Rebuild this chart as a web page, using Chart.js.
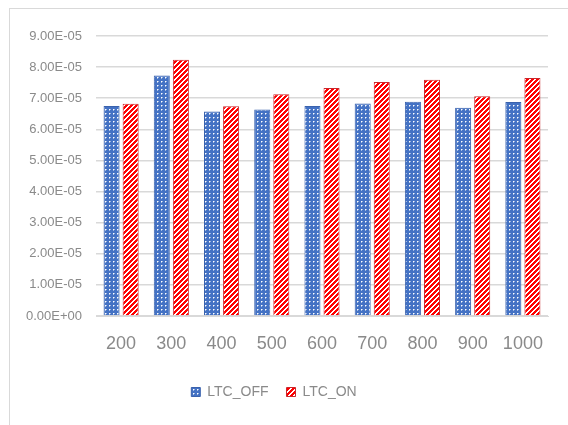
<!DOCTYPE html>
<html>
<head>
<meta charset="utf-8">
<script src="https://cdn.jsdelivr.net/npm/chart.js"></script>
<style>
  html, body { margin: 0; padding: 0; background: #fff; }
  #wrap { position: relative; width: 568px; height: 425px; }
  #frame { position: absolute; left: 9px; top: 8px; right: -2px; bottom: -2px;
           border-top: 1px solid #d9d9d9; border-left: 1px solid #d9d9d9; }
  canvas { position: absolute; left: 0; top: 0; }
</style>
</head>
<body>
<div id="wrap">
  <div id="frame"></div>
  <canvas id="chart" width="568" height="425"></canvas>
</div>
<script>
// values
const categories = ['200', '300', '400', '500', '600', '700', '800', '900', '1000'];
const ltcOff = [6.75e-5, 7.73e-5, 6.57e-5, 6.64e-5, 6.75e-5, 6.83e-5, 6.89e-5, 6.69e-5, 6.88e-5];
const ltcOn = [6.82e-5, 8.24e-5, 6.74e-5, 7.13e-5, 7.33e-5, 7.52e-5, 7.59e-5, 7.06e-5, 7.65e-5];
const seriesNames = ['LTC_OFF', 'LTC_ON'];
const yMax = 9e-5;
const yStep = 1e-5;

// small tiles for the Excel-like fills
function dotPattern(ctx) {
  const c = document.createElement('canvas');
  c.width = 4; c.height = 4;
  const g = c.getContext('2d');
  g.fillStyle = '#4472c4';
  g.fillRect(0, 0, 4, 4);
  g.fillStyle = '#ffffff';
  g.fillRect(1, 1, 1, 1);
  g.fillStyle = 'rgba(255,255,255,0.5)';
  g.fillRect(2, 1, 1, 1);
  g.fillRect(1, 2, 1, 1);
  return ctx.createPattern(c, 'repeat');
}

function stripePattern(ctx) {
  const n = 5;
  const c = document.createElement('canvas');
  c.width = n; c.height = n;
  const g = c.getContext('2d');
  const img = g.createImageData(n, n);
  for (let y = 0; y < n; y++) {
    for (let x = 0; x < n; x++) {
      const i = (y * n + x) * 4;
      const red = ((x + y) % n) < 3;
      img.data[i] = 255;
      img.data[i + 1] = red ? 0 : 255;
      img.data[i + 2] = red ? 0 : 255;
      img.data[i + 3] = 255;
    }
  }
  g.putImageData(img, 0, 0);
  return ctx.createPattern(c, 'repeat');
}

function sci(v) {
  let s = Number(v).toExponential(2).toUpperCase();
  return s.replace(/E([+-])(\d)$/, 'E$10$2');
}

const ctx = document.getElementById('chart').getContext('2d');
const font = "'Liberation Sans', Arial, sans-serif";

new Chart(ctx, {
  type: 'bar',
  data: {
    labels: categories,
    datasets: [
      {
        label: seriesNames[0],
        data: ltcOff,
        backgroundColor: dotPattern(ctx),
        borderColor: '#3a62ad',
        borderWidth: 1,
        categoryPercentage: 0.76,
        barPercentage: 0.84
      },
      {
        label: seriesNames[1],
        data: ltcOn,
        backgroundColor: stripePattern(ctx),
        borderColor: '#c8282d',
        borderWidth: 1,
        categoryPercentage: 0.76,
        barPercentage: 0.84
      }
    ]
  },
  options: {
    responsive: false,
    animation: false,
    layout: { padding: { left: 0, right: 20, top: 36, bottom: 16 } },
    scales: {
      x: {
        grid: { display: false },
        border: { color: '#d9d9d9', width: 1 },
        ticks: { color: '#8a8a8a', font: { family: font, size: 18 }, padding: 9, maxRotation: 0 },
        afterFit: function (scale) { scale.height = 51; }
      },
      y: {
        min: 0,
        max: yMax,
        grid: { color: '#d9d9d9', lineWidth: 1.5, drawTicks: false },
        border: { display: false },
        ticks: {
          stepSize: yStep,
          color: '#8a8a8a',
          font: { family: font, size: 13 },
          padding: 14,
          callback: function (v) { return sci(v); }
        },
        afterFit: function (scale) { scale.width = 96; }
      }
    },
    plugins: {
      legend: {
        position: 'bottom',
        labels: {
          boxWidth: 9,
          boxHeight: 9,
          padding: 18,
          color: '#8a8a8a',
          font: { family: font, size: 14 }
        }
      },
      tooltip: { enabled: false }
    }
  }
});
</script>
</body>
</html>
